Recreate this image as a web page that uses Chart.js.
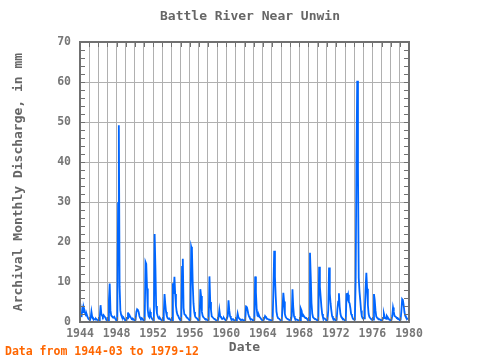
<!DOCTYPE html>
<html>
<head>
<meta charset="utf-8">
<script src="https://cdn.jsdelivr.net/npm/chart.js@4"></script>
<style>
  html, body { margin: 0; padding: 0; background: #fff; }
  #wrap { width: 480px; height: 360px; }
</style>
</head>
<body>
<div id="wrap"><canvas id="flowChart" width="480" height="360"></canvas></div>
<script>
// Battle River Near Unwin - archival monthly discharge (mm)
const startYear = 1944;
const startMonth = 3; // first value is 1944-03
const yTicks = [0, 10, 20, 30, 40, 50, 60, 70];
const xLabelYears = [1944, 1948, 1952, 1956, 1960, 1964, 1968, 1972, 1976, 1980];

// one line per year, Jan..Dec (1944 starts at March)
const discharge = [
  1.2, 3.3, 2.5, 3.6, 2.9, 2.0, 1.6, 1.8, 1.2, 0.8,
  0.6, 0.5, 1.0, 2.6, 1.3, 0.9, 0.8, 0.7, 0.6, 0.8, 0.6, 0.5,
  0.4, 0.4, 1.2, 4.2, 2.1, 1.6, 1.3, 1.7, 1.4, 1.2, 0.8, 0.6,
  0.5, 0.5, 5.4, 9.6, 2.9, 1.6, 1.4, 1.2, 1.1, 1.3, 0.9, 0.6,
  0.5, 0.6, 29.7, 49.2, 8.9, 2.9, 1.8, 1.3, 1.0, 1.2, 0.8, 0.5,
  0.4, 0.4, 1.0, 2.4, 1.3, 1.7, 1.3, 1.0, 0.8, 0.9, 0.7, 0.5,
  0.4, 0.5, 2.5, 3.2, 3.0, 2.5, 1.5, 1.0, 0.8, 1.0, 0.8, 0.5,
  0.4, 0.5, 15.0, 14.5, 8.4, 3.0, 1.5, 1.2, 2.5, 1.5, 1.0, 0.7,
  0.5, 0.6, 22.0, 14.0, 4.0, 2.2, 1.5, 1.0, 0.8, 1.0, 0.7, 0.5,
  0.4, 0.4, 2.0, 7.0, 4.5, 2.5, 1.5, 1.0, 0.8, 0.9, 0.7, 0.5,
  0.4, 0.5, 9.7, 7.0, 11.3, 7.0, 4.0, 2.5, 1.8, 1.5, 1.0, 0.7,
  0.5, 0.5, 13.8, 15.8, 3.5, 2.0, 1.8, 1.5, 1.2, 1.1, 0.8, 0.6,
  0.5, 0.6, 18.8, 18.0, 9.7, 4.7, 2.5, 1.5, 1.1, 1.0, 0.8, 0.5,
  0.4, 0.5, 8.2, 6.5, 2.6, 1.6, 1.2, 1.0, 0.8, 0.8, 0.6, 0.5,
  0.4, 0.5, 11.4, 5.0, 3.0, 1.4, 1.2, 1.0, 0.8, 0.8, 0.6, 0.4,
  0.3, 0.4, 1.2, 3.0, 1.5, 1.2, 1.0, 0.8, 0.9, 1.0, 0.7, 0.5,
  0.4, 0.4, 1.5, 5.4, 2.9, 1.5, 1.0, 0.8, 0.6, 0.7, 0.5, 0.4,
  0.3, 0.4, 0.8, 2.1, 1.2, 0.9, 0.7, 0.6, 0.5, 0.6, 0.5, 0.4,
  0.3, 0.4, 3.9, 3.8, 3.0, 2.0, 1.4, 1.0, 0.8, 0.7, 0.6, 0.4,
  0.4, 0.5, 11.4, 7.5, 3.2, 1.6, 1.4, 1.7, 1.2, 1.0, 0.7, 0.5,
  0.4, 0.4, 0.9, 1.5, 1.2, 1.0, 0.8, 0.7, 0.6, 0.6, 0.5, 0.4,
  0.4, 0.5, 8.8, 17.8, 11.3, 6.3, 2.6, 1.5, 1.0, 0.9, 0.7, 0.5,
  0.4, 0.5, 3.8, 7.3, 5.1, 2.0, 1.3, 1.0, 0.8, 0.8, 0.6, 0.5,
  0.4, 0.5, 1.5, 8.2, 3.8, 1.5, 1.0, 0.8, 0.6, 0.6, 0.5, 0.4,
  0.3, 0.4, 3.3, 2.8, 1.5, 1.4, 1.5, 1.2, 1.0, 1.0, 0.8, 0.5,
  0.4, 0.5, 17.3, 11.3, 4.7, 2.1, 1.2, 1.0, 0.8, 0.8, 0.6, 0.5,
  0.4, 0.5, 13.8, 8.8, 6.3, 3.8, 2.0, 1.2, 0.9, 0.9, 0.7, 0.5,
  0.4, 0.5, 3.0, 13.6, 7.2, 4.7, 2.9, 1.5, 1.0, 0.9, 0.7, 0.5,
  0.4, 0.5, 3.3, 5.1, 7.2, 3.8, 2.0, 1.3, 1.0, 0.9, 0.7, 0.5,
  0.4, 0.5, 7.2, 6.0, 6.8, 5.0, 4.7, 3.5, 2.0, 1.6, 1.0, 0.7,
  0.6, 1.0, 10.9, 40.8, 60.3, 38.4, 11.0, 7.6, 5.4, 2.9, 1.5, 1.0,
  0.8, 0.9, 3.0, 8.4, 12.3, 8.3, 4.3, 2.0, 1.3, 1.0, 0.8, 0.6,
  0.5, 0.6, 7.0, 5.5, 2.9, 1.4, 1.1, 0.9, 0.7, 0.7, 0.6, 0.5,
  0.4, 0.4, 1.0, 2.1, 1.3, 1.0, 0.8, 1.5, 1.2, 0.9, 0.6, 0.5,
  0.4, 0.5, 1.5, 3.6, 2.6, 1.5, 1.4, 1.2, 1.0, 1.0, 0.8, 0.6,
  0.5, 0.6, 2.8, 5.7, 5.4, 4.2, 2.5, 1.6, 1.2, 1.0, 0.8, 0.7
];

const FONT = '"DejaVu Sans Mono", monospace';
const points = discharge.map((v, i) => ({ x: startYear + (startMonth - 1 + i) / 12, y: v }));

// frame, inward tick marks, title and footer, drawn from the chart's own scales
const framePlugin = {
    id: 'frame',
    afterDraw(chart) {
        const { ctx, chartArea: a, scales: { x, y } } = chart;
        ctx.save();
        ctx.strokeStyle = '#707070';
        ctx.lineWidth = 1;
        ctx.beginPath();
        for (let yr = 1944; yr <= 1980; yr++) {
            const px = Math.round(x.getPixelForValue(yr)) + 0.5;
            ctx.moveTo(px, a.top); ctx.lineTo(px, a.top + 5);
            ctx.moveTo(px, a.bottom); ctx.lineTo(px, a.bottom - 5);
        }
        for (let v = 0; v <= 70; v += 2) {
            const py = Math.round(y.getPixelForValue(v)) + 0.5;
            ctx.moveTo(a.left, py); ctx.lineTo(a.left + 5, py);
            ctx.moveTo(a.right, py); ctx.lineTo(a.right - 5, py);
        }
        ctx.stroke();
        ctx.lineWidth = 2;
        ctx.strokeRect(a.left, a.top, a.right - a.left, a.bottom - a.top);

        ctx.textBaseline = 'middle';
        ctx.fillStyle = '#666';
        ctx.textAlign = 'center';
        ctx.font = 'bold 13px ' + FONT;
        ctx.fillText('Battle River Near Unwin', 250, 17);

        ctx.fillStyle = '#ff6600';
        ctx.textAlign = 'left';
        ctx.font = 'bold 11.5px ' + FONT;
        ctx.fillText('Data from 1944-03 to 1979-12', 5, 352);
        ctx.restore();
    }
};

new Chart(document.getElementById('flowChart'), {
    type: 'line',
    data: {
        datasets: [{
            data: points,
            borderColor: '#0066ff',
            borderWidth: 1.8,
            pointRadius: 0,
            tension: 0,
            fill: false
        }]
    },
    options: {
        responsive: false,
        animation: false,
        layout: { padding: { left: 0, right: 71, top: 42, bottom: 0 } },
        plugins: {
            legend: { display: false },
            tooltip: { enabled: false },
            title: { display: false }
        },
        scales: {
            x: {
                type: 'linear',
                min: 1944,
                max: 1980,
                afterFit: s => { s.height = 38; },
                afterBuildTicks: s => {
                    const t = [];
                    for (let yr = 1944; yr <= 1980; yr++) t.push({ value: yr });
                    s.ticks = t;
                },
                grid: { color: '#b0b0b0', lineWidth: 1, drawTicks: false },
                border: { display: false },
                ticks: {
                    autoSkip: false,
                    maxRotation: 0,
                    padding: 5,
                    color: '#777',
                    font: { family: FONT, size: 11.5, weight: 'bold' },
                    callback: v => xLabelYears.includes(v) ? String(v) : ''
                },
                title: {
                    display: true,
                    text: 'Date',
                    color: '#666',
                    font: { family: FONT, size: 13, weight: 'bold' },
                    padding: { top: 0, bottom: 5 }
                }
            },
            y: {
                min: 0,
                max: 70,
                afterFit: s => { s.width = 80; },
                afterBuildTicks: s => { s.ticks = yTicks.map(v => ({ value: v })); },
                grid: { color: '#b0b0b0', lineWidth: 1, drawTicks: false },
                border: { display: false },
                ticks: {
                    padding: 9,
                    color: '#777',
                    font: { family: FONT, size: 11.5, weight: 'bold' }
                },
                title: {
                    display: true,
                    text: 'Archival Monthly Discharge, in mm',
                    color: '#666',
                    font: { family: FONT, size: 13, weight: 'bold' },
                    padding: { top: 11, bottom: 0 }
                }
            }
        }
    },
    plugins: [framePlugin]
});
</script>
</body>
</html>
